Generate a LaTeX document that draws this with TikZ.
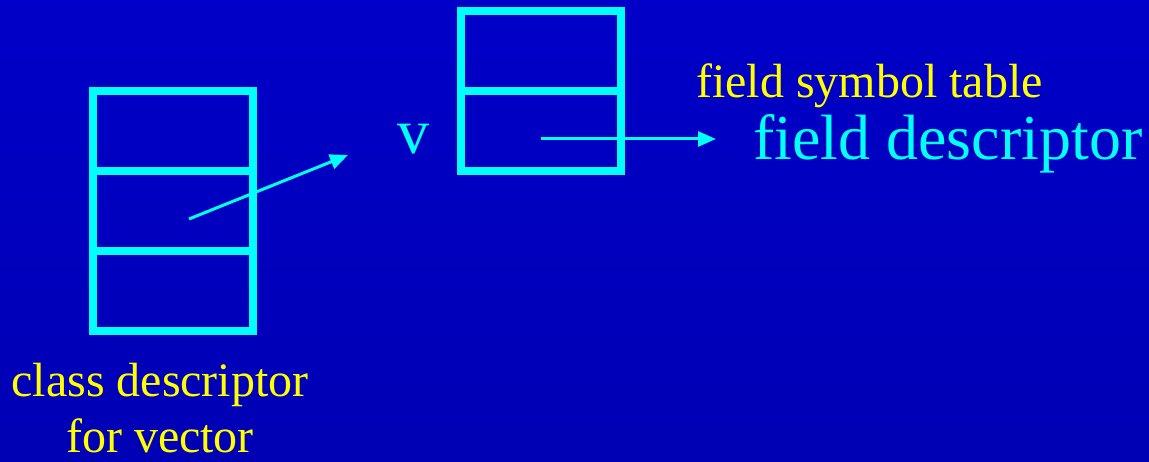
\documentclass[tikz,border=0pt]{standalone}
\usepackage{fontspec}
\setmainfont{Liberation Serif}
\usetikzlibrary{arrows.meta}
\definecolor{bgtop}{RGB}{0,0,200}
\definecolor{bgbot}{RGB}{0,0,180}
\definecolor{cy}{RGB}{0,255,255}
\definecolor{yl}{RGB}{255,255,0}
\begin{document}
\begin{tikzpicture}[x=1pt,y=-1pt,
  cell/.style={draw=cy, line width=8pt, minimum width=160pt, minimum height=80pt, inner sep=0pt, outer sep=0pt},
  ptr/.style={draw=cy, line width=3pt, -{Triangle[length=18pt,width=15pt]}},
  bigtext/.style={text=cy, inner sep=0pt, font=\fontsize{64}{64}\selectfont},
  labeltext/.style={text=yl, inner sep=0pt, font=\fontsize{48}{48}\selectfont}]
\shade[top color=bgtop, bottom color=bgbot, use as bounding box] (0,0) rectangle (1149,462);
% class descriptor box
\node[cell] (L1) at (173,131) {};
\node[cell] (L2) at (173,211) {};
\node[cell] (L3) at (173,291) {};
% v box
\node[cell] (R1) at (541,51) {};
\node[cell] (R2) at (541,131) {};
% texts
\node[bigtext, anchor=base] (v) at (413,154) {v};
\node[bigtext, anchor=base west] (fd) at (753,160) {field descriptor};
\node[labeltext, anchor=base west] (fst) at (696,98) {field symbol table};
\node[labeltext, anchor=base] (cd1) at (160,396) {class descriptor};
\node[labeltext, anchor=base] (cd2) at (160,452) {for vector};
% pointers
\coordinate (a1s) at (189,219);
\coordinate (a1e) at (348,155);
\coordinate (a2s) at (541,139);
\coordinate (a2e) at (716,139);
\draw[ptr] (a1s) -- (a1e);
\draw[ptr] (a2s) -- (a2e);
\end{tikzpicture}
\end{document}
